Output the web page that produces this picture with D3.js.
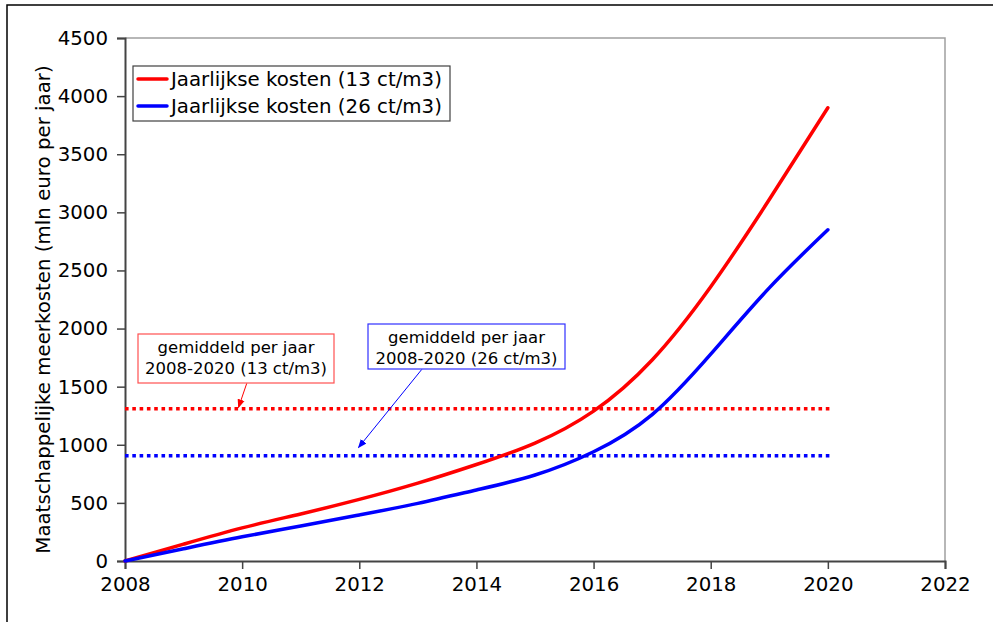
<!DOCTYPE html>
<html><head><meta charset="utf-8">
<script src="https://cdn.jsdelivr.net/npm/d3@7"></script>
<style>body{margin:0;background:#fff}svg{display:block;font-family:"DejaVu Sans",Verdana,sans-serif}</style>
</head><body>
<svg id="c" width="993" height="622"></svg>
<script>
const years = [2008,2009,2010,2011,2012,2013,2014,2015,2016,2017,2018,2019,2020];
const kosten13 = [0,145,285,405,530,670,830,1015,1290,1730,2360,3110,3900];
const kosten26 = [0,105,208,301,396,496,611,740,940,1260,1780,2350,2850];
const gemiddeld13 = 1310;
const gemiddeld26 = 905;
const seriesNames = ["Jaarlijkse kosten (13 ct/m3)","Jaarlijkse kosten (26 ct/m3)"];
const annot13 = ["gemiddeld per jaar","2008-2020 (13 ct/m3)"];
const annot26 = ["gemiddeld per jaar","2008-2020 (26 ct/m3)"];
const xTicks = [2008,2010,2012,2014,2016,2018,2020,2022];
const yTicks = [0,500,1000,1500,2000,2500,3000,3500,4000,4500];
const yTitle = "Maatschappelijke meerkosten (mln euro per jaar)";

const svg = d3.select("#c");
const L=125, R=945, T=38, B=561;
const x = d3.scaleLinear().domain([2008,2022]).range([L,R]);
const y = d3.scaleLinear().domain([0,4500]).range([B,T]);
const FS = 19.8, FA = 16.5;

svg.append("path").attr("d","M7,622 V5 H993").attr("fill","none").attr("stroke","#000").attr("stroke-width",1.5);
svg.append("path").attr("d",`M${L},${T} H${R} V${B}`).attr("fill","none").attr("stroke","#a0a0a0").attr("stroke-width",1.5);

const xa = svg.append("g").attr("transform",`translate(0,${B})`)
  .call(d3.axisBottom(x).tickValues(xTicks).tickFormat(d3.format("d")).tickSize(8).tickPadding(8));
const ya = svg.append("g").attr("transform",`translate(${L},0)`)
  .call(d3.axisLeft(y).tickValues(yTicks).tickFormat(d3.format("d")).tickSize(8).tickPadding(9));
[xa,ya].forEach(g=>{
  g.select(".domain").attr("stroke","#444").attr("stroke-width",2);
  g.selectAll(".tick line").attr("stroke","#444").attr("stroke-width",1.5);
  g.selectAll(".tick text").attr("font-size",FS).attr("fill","#000").attr("font-family","DejaVu Sans, Verdana, sans-serif");
});

svg.append("text").attr("transform",`translate(50,${(T+B)/2+10}) rotate(-90)`)
  .attr("text-anchor","middle").attr("font-size",FS).text(yTitle);

[[gemiddeld13,"#ff0000"],[gemiddeld26,"#0000ff"]].forEach(([v,c])=>{
  svg.append("line").attr("x1",x(2008)).attr("x2",x(2020.05)).attr("y1",y(v)).attr("y2",y(v))
    .attr("stroke",c).attr("stroke-width",3.5).attr("stroke-dasharray","3.6,3.7");
});

const line = d3.line().x((d,i)=>x(years[i])).y(d=>y(d)).curve(d3.curveNatural);
[[kosten13,"#ff0000"],[kosten26,"#0000ff"]].forEach(([s,c])=>{
  svg.append("path").datum(s).attr("d",line).attr("fill","none").attr("stroke",c)
    .attr("stroke-width",3.5).attr("stroke-linecap","round");
});

const lg = svg.append("g");
lg.append("rect").attr("x",133).attr("y",66).attr("width",317).attr("height",55)
  .attr("fill","#fff").attr("stroke","#404040").attr("stroke-width",1.2);
seriesNames.forEach((n,i)=>{
  const yy = 79 + i*27;
  lg.append("line").attr("x1",138).attr("x2",167).attr("y1",yy).attr("y2",yy)
    .attr("stroke",i?"#0000ff":"#ff0000").attr("stroke-width",3.5).attr("stroke-linecap","round");
  lg.append("text").attr("x",171).attr("y",yy+7).attr("font-size",FS).text(n);
});

const defs = svg.append("defs");
[["ar","#ff0000"],["ab","#0000ff"]].forEach(([id,c])=>{
  defs.append("marker").attr("id",id).attr("viewBox","0 0 10 10").attr("refX",9).attr("refY",5)
    .attr("markerWidth",9).attr("markerHeight",9).attr("orient","auto").attr("markerUnits","userSpaceOnUse")
    .append("path").attr("d","M0,1 L10,5 L0,9 Z").attr("fill",c);
});

function annot(lines, bx, by, bw, bh, stroke, arrow, color, mid){
  svg.append("rect").attr("x",bx).attr("y",by).attr("width",bw).attr("height",bh)
    .attr("fill","#fff").attr("stroke",stroke).attr("stroke-width",1.2);
  lines.forEach((t,i)=>svg.append("text").attr("x",bx+bw/2).attr("y",by+18.5+i*21)
    .attr("text-anchor","middle").attr("font-size",FA).text(t));
  svg.append("line").attr("x1",arrow[0]).attr("y1",arrow[1]).attr("x2",arrow[2]).attr("y2",arrow[3])
    .attr("stroke",color).attr("stroke-width",1).attr("marker-end",`url(#${mid})`);
}
annot(annot13,138,334,196,49,"#ff5050",[246.7,383.5,238.5,407.5],"#ff0000","ar");
annot(annot26,368,324,197,45,"#3030ff",[421.7,369.5,358.5,447.5],"#0000ff","ab");
</script>
</body></html>
